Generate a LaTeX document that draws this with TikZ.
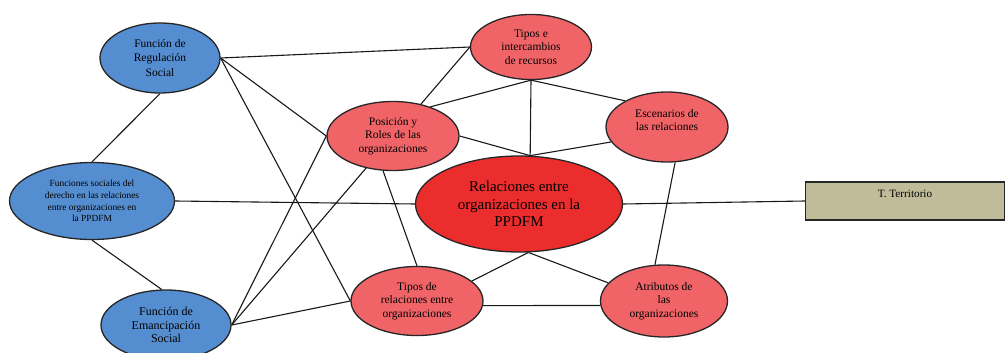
\documentclass[tikz,border=0pt]{standalone}
\usepackage{fontspec}
\setmainfont{Liberation Serif}
\usetikzlibrary{shapes.geometric,backgrounds}
\definecolor{bluenode}{RGB}{85,142,208}
\definecolor{rednode}{RGB}{240,100,104}
\definecolor{centernode}{RGB}{236,45,46}
\definecolor{terrfill}{RGB}{192,188,154}
\tikzset{
  base/.style={ellipse, draw=black!85, line width=1.3pt, inner sep=0pt, align=center},
  bluen/.style={base, fill=bluenode, font=\fontsize{11.5}{13.5}\selectfont},
  redn/.style={base, fill=rednode, font=\fontsize{11.5}{13.5}\selectfont},
  link/.style={draw=black!90, line width=1.1pt},
}
\begin{document}
\begin{tikzpicture}[x=1pt,y=-1pt]
\useasboundingbox (0,0) rectangle (1005,353);
% left (blue) nodes
\node[bluen, minimum width=120, minimum height=70, font=\fontsize{11.5}{14.5}\selectfont] (reg) at (160,58) {Función de\\Regulación\\Social};
\node[bluen, minimum width=165, minimum height=77, font=\fontsize{9.4}{11.7}\selectfont] (fs) at (92,201) {Funciones sociales del\\derecho en las relaciones\\entre organizaciones en\\la PPDFM};
\node[bluen, minimum width=130, minimum height=70, font=\fontsize{12}{13.5}\selectfont] (em) at (166,325) {Función de\\Emancipación\\Social};
% red nodes
\node[redn, minimum width=121, minimum height=65] (int) at (531,47) {Tipos e\\intercambios\\de recursos};
\node[redn, minimum width=132, minimum height=69] (pos) at (393,136) {Posición y\\Roles de las\\organizaciones};
\node[redn, minimum width=122, minimum height=70, font=\fontsize{11.5}{13}\selectfont] (esc) at (667,127) {Escenarios de\\las relaciones\\\mbox{}};
\node[base, fill=centernode, minimum width=207, minimum height=96, font=\fontsize{15}{17.5}\selectfont] (cen) at (519,204) {Relaciones entre\\organizaciones en la\\PPDFM};
\node[redn, minimum width=132, minimum height=69] (tr) at (417,301) {Tipos de\\relaciones entre\\organizaciones};
\node[redn, minimum width=127, minimum height=72] (atr) at (664,301) {Atributos de\\las\\organizaciones};
% territory box
\node[rectangle, draw=black!85, line width=1.3pt, fill=terrfill, minimum width=199, minimum height=38, inner sep=0pt, font=\fontsize{11.2}{13}\selectfont] (terr) at (905,201) {\raisebox{3.3pt}[0pt][0pt]{T. Territorio}};
% connectors
\begin{scope}[on background layer]
  \draw[link] (reg.south) -- (fs.north);
  \draw[link] (fs.south) -- (em.97);
  \draw[link] (reg.east) -- (int.west);
  \draw[link] (reg.east) -- (pos.west);
  \draw[link] (reg.east) -- (tr.west);
  \draw[link] (em.east) -- (pos.west);
  \draw[link] (em.east) -- (int.west);
  \draw[link] (em.east) -- (tr.west);
  \draw[link] (fs.east) -- (cen.west);
  \draw[link] (pos.38) -- (int.south);
  \draw[link] (int.south) -- (cen.77);
  \draw[link] (int.south) -- (esc.148);
  \draw[link] (pos.east) -- (cen.77);
  \draw[link] (esc.195) -- (cen.77);
  \draw[link] (pos.-106) -- (tr.north);
  \draw[link] (cen.-79) -- (tr.20);
  \draw[link] (cen.-79) -- (atr.162);
  \draw[link] (tr.-4) -- (atr.184);
  \draw[link] (esc.-77) -- (atr.104);
  \draw[link] (cen.east) -- (terr.west);
\end{scope}
\end{tikzpicture}
\end{document}
